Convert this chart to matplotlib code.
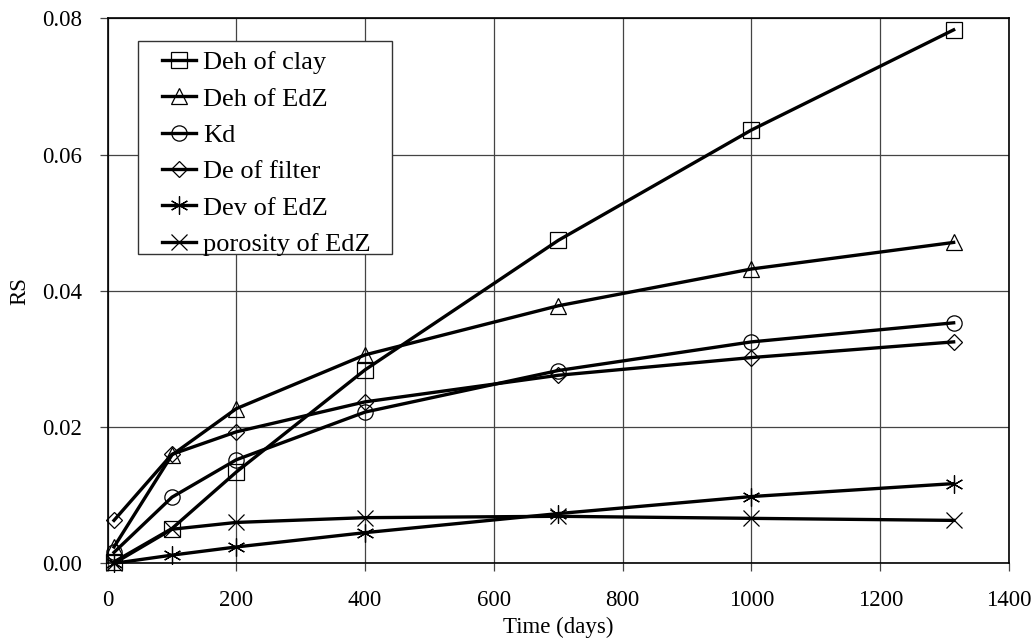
import matplotlib
matplotlib.use("Agg")
import matplotlib.pyplot as plt
from matplotlib.patches import Rectangle

plt.rcParams['font.family'] = ['Liberation Serif', 'DejaVu Serif']

days = [10, 100, 200, 400, 700, 1000, 1314]
deh_clay = [0.0002, 0.0051, 0.0134, 0.0284, 0.0474, 0.0636, 0.0783]
deh_edz = [0.0024, 0.0159, 0.0227, 0.0306, 0.0378, 0.0432, 0.0471]
kd = [0.0016, 0.0097, 0.0152, 0.0222, 0.0283, 0.0325, 0.0353]
de_filter = [0.0063, 0.0160, 0.0193, 0.0237, 0.0276, 0.0302, 0.0325]
dev_edz = [0.0, 0.0012, 0.0024, 0.0045, 0.0073, 0.0098, 0.0117]
porosity_edz = [0.0, 0.0050, 0.0060, 0.0067, 0.0069, 0.0066, 0.0063]

labels = ["Deh of clay", "Deh of EdZ", "Kd", "De of filter", "Dev of EdZ", "porosity of EdZ"]
series = [deh_clay, deh_edz, kd, de_filter, dev_edz, porosity_edz]
markers = ['s', '^', 'o', 'D', (6, 2, 0), 'x']
msizes = [11, 12, 11, 8, 13, 11]

fig = plt.figure(figsize=(10.35, 6.41), dpi=100)
ax = fig.add_axes([0.1039, 0.1212, 0.8710, 0.8503])

for y, lab, m, ms in zip(series, labels, markers, msizes):
    ax.plot(days, y, color='black', lw=2.4, marker=m, ms=ms,
            markerfacecolor='none', markeredgecolor='black', markeredgewidth=0.9,
            label=lab, clip_on=False)

ax.set_xlim(0, 1400)
ax.set_ylim(0, 0.08)
ax.set_xticks(range(0, 1401, 200))
ax.set_yticks([0.0, 0.02, 0.04, 0.06, 0.08])
ax.set_yticklabels(["0.00", "0.02", "0.04", "0.06", "0.08"])
ax.grid(True, color='#444444', lw=0.9)
ax.set_axisbelow(True)
for s in ax.spines.values():
    s.set_linewidth(1.2)
ax.tick_params(axis='both', direction='out', length=5.5, width=0.9, color='#444444',
               labelsize=16.5)
ax.tick_params(axis='y', pad=13)
ax.tick_params(axis='x', pad=14)

ax.set_xlabel("Time (days)", fontsize=16.5)
ax.set_ylabel("RS", fontsize=16.5)
ax.xaxis.set_label_coords(0.5, -0.098)
ax.yaxis.set_label_coords(-0.086, 0.5)

# legend frame
ax.add_patch(Rectangle((0.0338, 0.5675), 0.2818, 0.3908, transform=ax.transAxes,
                       facecolor='white', edgecolor='#333333', lw=1.0, zorder=4))

leg = ax.legend(loc='upper left', bbox_to_anchor=(0.0605, 0.940), fontsize=19,
                frameon=False, handlelength=1.3, handletextpad=0.25,
                labelspacing=0.485, borderpad=0, borderaxespad=0)
leg.set_zorder(5)

fig.savefig("out.png", dpi=100)
